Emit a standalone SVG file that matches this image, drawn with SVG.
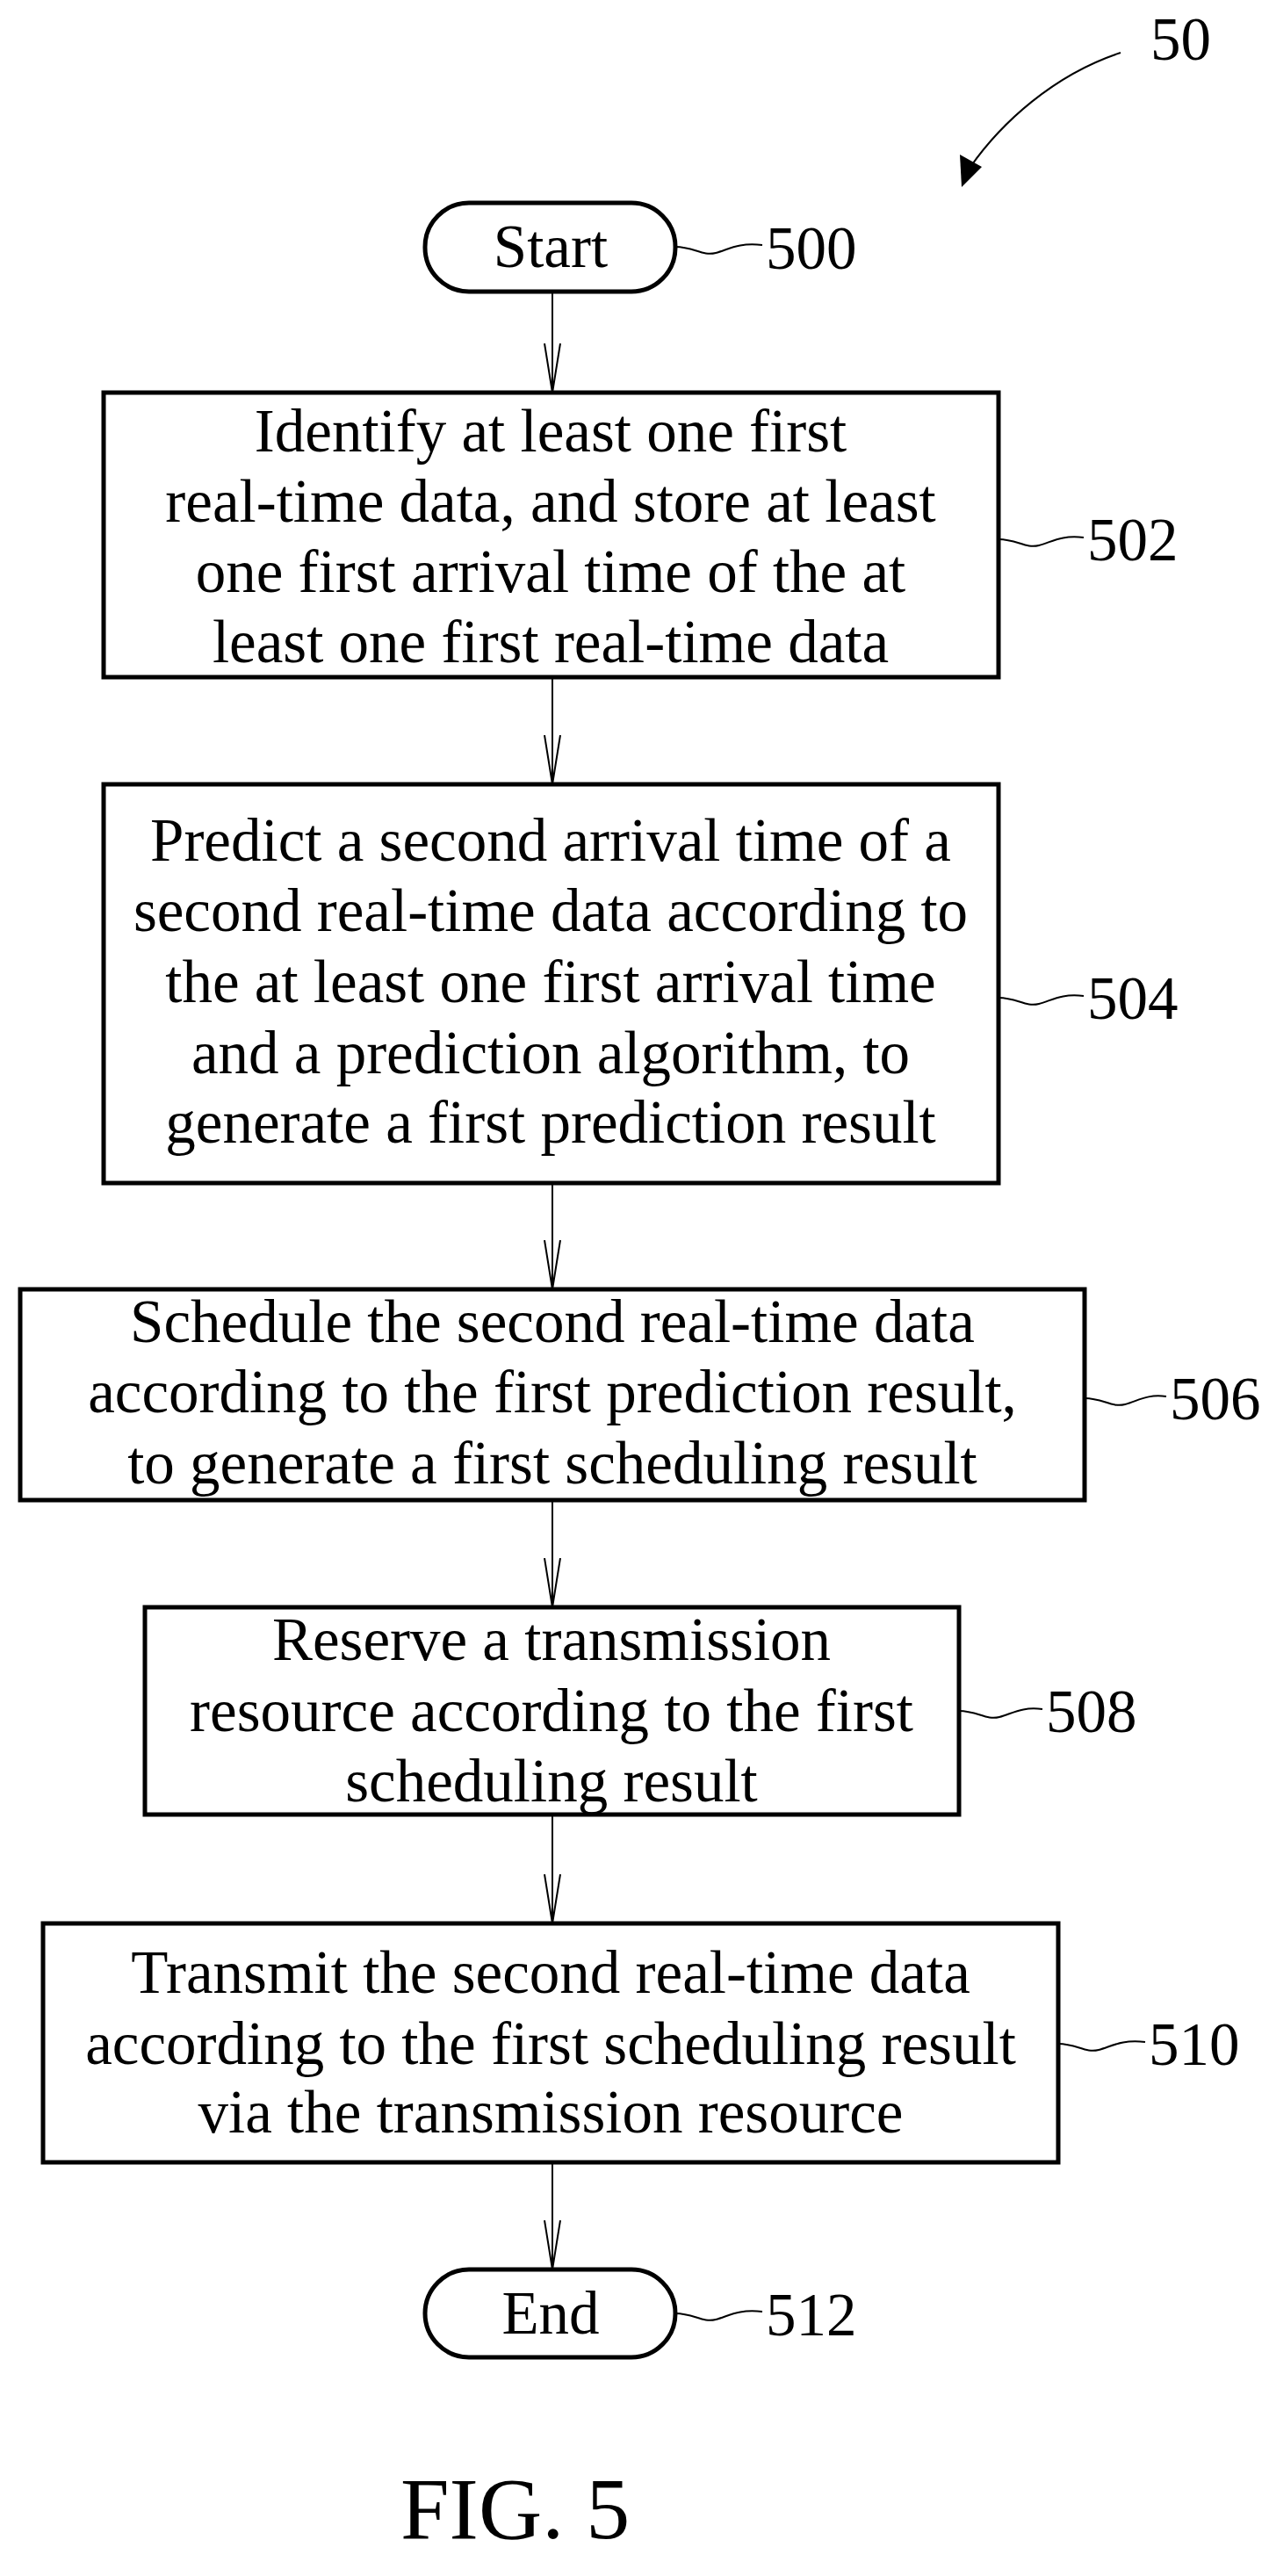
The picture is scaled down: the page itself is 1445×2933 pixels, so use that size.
<svg xmlns="http://www.w3.org/2000/svg" width="1445" height="2933" viewBox="0 0 1445 2933">
<style>
.b{fill:none;stroke:#000;stroke-width:5}
.c{fill:none;stroke:#000;stroke-width:2}
text{font-family:"Liberation Serif","Times New Roman",serif;font-size:69px;fill:#000}
.m{text-anchor:middle}
</style>
<defs>
<marker id="v" markerWidth="60" markerHeight="20" refX="56" refY="10" orient="auto" markerUnits="userSpaceOnUse" viewBox="0 0 60 20">
<path d="M0,1 L56,10 L0,19" fill="none" stroke="#000" stroke-width="2"/>
</marker>
</defs>
<rect width="1445" height="2933" fill="#fff"/>
<g id="connectors">
<line class="c" x1="629" y1="332" x2="629" y2="447" marker-end="url(#v)"/>
<line class="c" x1="629" y1="771" x2="629" y2="893" marker-end="url(#v)"/>
<line class="c" x1="629" y1="1347" x2="629" y2="1468" marker-end="url(#v)"/>
<line class="c" x1="629" y1="1708" x2="629" y2="1830" marker-end="url(#v)"/>
<line class="c" x1="629" y1="2066" x2="629" y2="2190" marker-end="url(#v)"/>
<line class="c" x1="629" y1="2462" x2="629" y2="2584" marker-end="url(#v)"/>
<path class="c" d="M1276,60 C1200,85 1140,140 1105,190"/>
<path d="M1095,213 L1093,176 L1118,190 Z" fill="#000"/>
</g>
<g id="n500">
<rect class="b" x="484" y="231" width="285" height="101" rx="50"/>
<text class="m" x="627" y="304">Start</text>
<path class="c" d="M769,281 C790,281 800,292 815,288 C830,284 840,276 868,279"/>
<text x="872" y="306">500</text>
</g>
<g id="n502">
<rect class="b" x="118" y="447" width="1019" height="324"/>
<text class="m" x="627" y="514">Identify at least one first</text>
<text class="m" x="627" y="594">real-time data, and store at least</text>
<text class="m" x="627" y="674">one first arrival time of the at</text>
<text class="m" x="627" y="754">least one first real-time data</text>
<path class="c" d="M1137,614 C1158,614 1168,625 1183,621 C1198,617 1208,609 1234,612"/>
<text x="1238" y="638">502</text>
</g>
<g id="n504">
<rect class="b" x="118" y="893" width="1019" height="454"/>
<text class="m" x="627" y="980">Predict a second arrival time of a</text>
<text class="m" x="627" y="1060">second real-time data according to</text>
<text class="m" x="627" y="1141">the at least one first arrival time</text>
<text class="m" x="627" y="1222">and a prediction algorithm, to</text>
<text class="m" x="627" y="1301">generate a first prediction result</text>
<path class="c" d="M1137,1136 C1158,1136 1168,1147 1183,1143 C1198,1139 1208,1131 1234,1134"/>
<text x="1238" y="1160">504</text>
</g>
<g id="n506">
<rect class="b" x="23" y="1468" width="1212" height="240"/>
<text class="m" x="629" y="1528">Schedule the second real-time data</text>
<text class="m" x="629" y="1608">according to the first prediction result,</text>
<text class="m" x="629" y="1689">to generate a first scheduling result</text>
<path class="c" d="M1235,1592 C1256,1592 1266,1603 1281,1599 C1296,1595 1306,1587 1328,1590"/>
<text x="1332" y="1616">506</text>
</g>
<g id="n508">
<rect class="b" x="165" y="1830" width="927" height="236"/>
<text class="m" x="628" y="1890">Reserve a transmission</text>
<text class="m" x="628" y="1971">resource according to the first</text>
<text class="m" x="628" y="2051">scheduling result</text>
<path class="c" d="M1092,1948 C1113,1948 1123,1959 1138,1955 C1153,1951 1163,1943 1187,1946"/>
<text x="1191" y="1972">508</text>
</g>
<g id="n510">
<rect class="b" x="49" y="2190" width="1156" height="272"/>
<text class="m" x="627" y="2269">Transmit the second real-time data</text>
<text class="m" x="627" y="2350">according to the first scheduling result</text>
<text class="m" x="627" y="2428">via the transmission resource</text>
<path class="c" d="M1205,2327 C1226,2327 1236,2338 1251,2334 C1266,2330 1276,2322 1304,2325"/>
<text x="1308" y="2351">510</text>
</g>
<g id="n512">
<rect class="b" x="484" y="2584" width="285" height="100" rx="50"/>
<text class="m" x="627" y="2657">End</text>
<path class="c" d="M769,2634 C790,2634 800,2645 815,2641 C830,2637 840,2629 868,2632"/>
<text x="872" y="2659">512</text>
</g>
<g id="fig">
<text x="1310" y="68">50</text>
<text x="456" y="2890" style="font-size:100px">FIG. 5</text>
</g>
</svg>
